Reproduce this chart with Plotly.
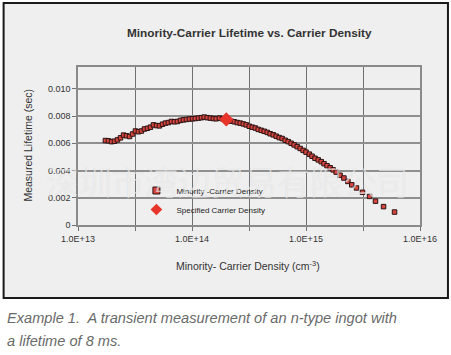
import plotly.graph_objects as go

# ---- data ----
density = [1.74e13, 1.85e13, 1.97e13, 2.09e13, 2.22e13, 2.36e13, 2.51e13, 2.66e13, 2.83e13, 3.01e13,
           3.19e13, 3.39e13, 3.60e13, 3.83e13, 4.07e13, 4.32e13, 4.59e13, 4.88e13, 5.18e13, 5.51e13,
           5.85e13, 6.21e13, 6.60e13, 7.01e13, 7.45e13, 7.93e13, 8.41e13, 8.94e13, 9.50e13, 1.01e14,
           1.07e14, 1.14e14, 1.21e14, 1.28e14, 1.36e14, 1.45e14, 1.54e14, 1.63e14, 1.74e14, 1.85e14,
           1.96e14, 2.08e14, 2.21e14, 2.35e14, 2.50e14, 2.65e14, 2.82e14, 2.99e14, 3.18e14, 3.38e14,
           3.59e14, 3.81e14, 4.05e14, 4.30e14, 4.57e14, 4.85e14, 5.16e14, 5.48e14, 5.82e14, 6.18e14,
           6.57e14, 6.98e14, 7.41e14, 7.87e14, 8.37e14, 8.89e14, 9.44e14, 1.00e15, 1.07e15, 1.13e15,
           1.20e15, 1.28e15, 1.36e15, 1.44e15, 1.53e15, 1.63e15, 1.73e15, 1.84e15, 1.99e15, 2.15e15,
           2.33e15, 2.52e15, 2.77e15, 3.13e15, 3.61e15, 4.07e15, 4.79e15, 5.98e15]
lifetime = [0.00620, 0.00618, 0.00612, 0.00615, 0.00625, 0.00640, 0.00660, 0.00655, 0.00650, 0.00668,
            0.00690, 0.00685, 0.00690, 0.00705, 0.00710, 0.00718, 0.00735, 0.00730, 0.00728, 0.00740,
            0.00748, 0.00752, 0.00760, 0.00758, 0.00760, 0.00768, 0.00772, 0.00775, 0.00778, 0.00780,
            0.00782, 0.00785, 0.00788, 0.00792, 0.00788, 0.00785, 0.00782, 0.00780, 0.00785, 0.00780,
            0.00775, 0.00770, 0.00762, 0.00758, 0.00752, 0.00748, 0.00742, 0.00735, 0.00725, 0.00718,
            0.00712, 0.00702, 0.00695, 0.00688, 0.00680, 0.00670, 0.00662, 0.00652, 0.00642, 0.00635,
            0.00622, 0.00612, 0.00600, 0.00588, 0.00575, 0.00562, 0.00548, 0.00535, 0.00520, 0.00505,
            0.00490, 0.00478, 0.00465, 0.00450, 0.00435, 0.00420, 0.00405, 0.00388, 0.00365, 0.00345,
            0.00320, 0.00295, 0.00272, 0.00240, 0.00210, 0.00175, 0.00135, 0.00095]
spec_density = [2.0e14]
spec_lifetime = [0.00775]

x_tickvals = [1e13, 3.1623e13, 1e14, 3.1623e14, 1e15, 3.1623e15, 1e16]
x_ticktext = ["1.0E+13", "", "1.0E+14", "", "1.0E+15", "", "1.0E+16"]
y_tickvals = [0, 0.002, 0.004, 0.006, 0.008, 0.010]
y_ticktext = ["0", "0.002", "0.004", "0.006", "0.008", "0.010"]

W, H = 451, 355
L, R, T, B = 77.5, 420, 67, 225
pw, ph = R - L, B - T

def px(x):
    return (x - L) / pw

def py(y):
    return (B - y) / ph

FONT = "Liberation Sans, Arial, sans-serif"
SQ = dict(symbol="square", color="#d8453f", line=dict(color="#2a1414", width=1))
DM = dict(symbol="diamond", color="#e8352b", line=dict(width=0))

fig = go.Figure()
fig.add_trace(go.Scatter(
    x=density, y=lifetime, mode="markers", name="Minority -Carrier Density",
    showlegend=False, marker=dict(size=4.5, **SQ)))
fig.add_trace(go.Scatter(
    x=spec_density, y=spec_lifetime, mode="markers", name="Specified Carrier Density",
    showlegend=False, marker=dict(size=11, **DM)))
# legend entries (larger swatches, as in the reference legend)
fig.add_trace(go.Scatter(x=[None], y=[None], mode="markers", name="Minority -Carrier Density",
                         marker=dict(size=7, **SQ)))
fig.add_trace(go.Scatter(x=[None], y=[None], mode="markers", name="Specified Carrier Density",
                         marker=dict(size=9, **DM)))

shapes = [
    dict(type="rect", xref="paper", yref="paper", x0=px(3), x1=px(448), y0=py(3), y1=py(298),
         fillcolor="#efefef", line=dict(color="#1a1a1a", width=2), layer="below"),
]

annotations = [
    dict(text="深圳市湾边贸易有限公司", xref="paper", yref="paper", x=px(227), y=py(181),
         showarrow=False, xanchor="center", yanchor="middle",
         font=dict(family="Noto Sans CJK SC", size=33, weight=300,
                   color="rgba(255,255,255,0.55)",
                   shadow="0px 0px 1px rgba(170,170,170,0.7)")),
    dict(text="<b>Minority-Carrier Lifetime vs. Carrier Density</b>", xref="paper", yref="paper",
         x=px(249), y=py(33), showarrow=False, xanchor="center", yanchor="middle",
         font=dict(family=FONT, size=11.8, color="#333333")),
    dict(text="Measured Lifetime (sec)", xref="paper", yref="paper", x=px(27), y=py(145),
         showarrow=False, textangle=-90, xanchor="center", yanchor="middle",
         font=dict(family=FONT, size=10.5, color="#333333")),
    dict(text="Minority- Carrier Density (cm<sup>-3</sup>)", xref="paper", yref="paper",
         x=px(248), y=py(265), showarrow=False, xanchor="center", yanchor="middle",
         font=dict(family=FONT, size=10.5, color="#333333")),
    dict(text="<i>Example 1.  A transient measurement of an n-type ingot with</i>", xref="paper",
         yref="paper", x=px(4), y=py(318), showarrow=False, xanchor="left", yanchor="middle",
         font=dict(family=FONT, size=14.6, color="#6a6a6a")),
    dict(text="<i>a lifetime of 8 ms.</i>", xref="paper", yref="paper", x=px(4), y=py(341),
         showarrow=False, xanchor="left", yanchor="middle",
         font=dict(family=FONT, size=14.6, color="#6a6a6a")),
]

fig.update_layout(
    width=W, height=H,
    margin=dict(l=L, r=W - R, t=T, b=H - B, pad=0, autoexpand=False),
    paper_bgcolor="white", plot_bgcolor="#efefef",
    showlegend=True,
    legend=dict(x=px(136), y=py(176), xanchor="left", yanchor="top",
                bgcolor="rgba(0,0,0,0)", font=dict(family=FONT, size=8, color="#222222"),
                itemsizing="trace", tracegroupgap=0, itemwidth=30),
    shapes=shapes, annotations=annotations,
    font=dict(family=FONT, color="#333333"),
)
fig.update_xaxes(type="log", range=[13, 16], tickvals=x_tickvals, ticktext=x_ticktext,
                 showgrid=True, gridcolor="#707070", gridwidth=1, automargin=False,
                 ticks="outside", ticklen=4, tickcolor="#707070",
                 showline=True, linecolor="#8a8a8a", linewidth=2, mirror=True,
                 tickfont=dict(family=FONT, size=9, color="#333333"), zeroline=False)
fig.update_yaxes(range=[0, 0.0116], tickvals=y_tickvals, ticktext=y_ticktext,
                 showgrid=True, gridcolor="#8f8f8f", gridwidth=1.5, automargin=False,
                 ticks="outside", ticklen=4, tickcolor="#707070",
                 showline=True, linecolor="#8a8a8a", linewidth=1.5, mirror=True,
                 tickfont=dict(family=FONT, size=9, color="#333333"), zeroline=False)

fig.write_html("out.html", config={"displayModeBar": False},
               post_script="document.body.style.margin='0';")
